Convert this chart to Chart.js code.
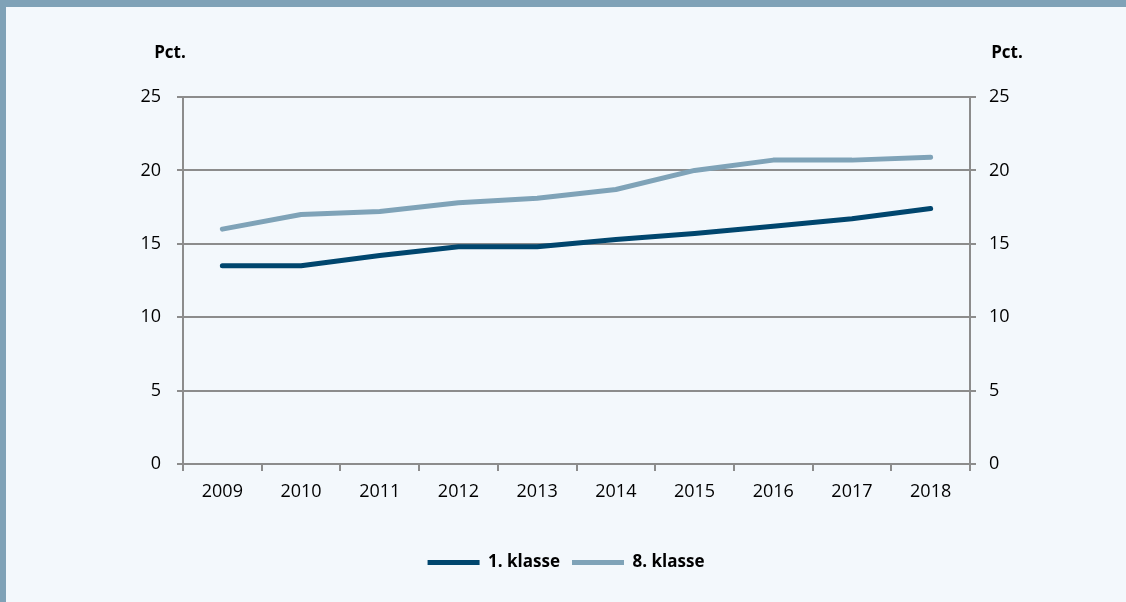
<!DOCTYPE html>
<html>
<head>
<meta charset="utf-8">
<script src="https://cdn.jsdelivr.net/npm/chart.js@4.4.1/dist/chart.umd.min.js"></script>
<style>
  html, body { margin: 0; padding: 0; }
  body { width: 1126px; height: 602px; background: #7fa2b7; position: relative; overflow: hidden; }
  #panel { position: absolute; left: 6px; top: 7px; width: 1120px; height: 595px; background: #f3f8fc; }
  #panel canvas { position: absolute; left: 0; top: 0; }
</style>
</head>
<body>
<div id="panel"><canvas id="c" width="1120" height="595"></canvas></div>
<script>
const categories = ['2009','2010','2011','2012','2013','2014','2015','2016','2017','2018'];
const seriesNames = ['1. klasse', '8. klasse'];
const klasse1 = [13.5, 13.5, 14.2, 14.8, 14.8, 15.3, 15.7, 16.2, 16.7, 17.4];
const klasse8 = [16.0, 17.0, 17.2, 17.8, 18.1, 18.7, 20.0, 20.7, 20.7, 20.9];
const yTicks = [0, 5, 10, 15, 20, 25];
const axisUnit = 'Pct.';

const FONT = "'Open Sans', 'Noto Sans', sans-serif";
const GRID = '#8c8c8c';
const TEXT = '#000';

const unitLabels = {
  id: 'unitLabels',
  afterDraw(chart) {
    const ctx = chart.ctx;
    ctx.save();
    ctx.font = "bold 17px " + FONT;
    ctx.fillStyle = TEXT;
    ctx.textAlign = 'center';
    ctx.textBaseline = 'middle';
    ctx.fillText(axisUnit, chart.chartArea.left - 13, 46);
    ctx.fillText(axisUnit, chart.chartArea.right + 37, 46);
    ctx.restore();
  }
};

new Chart(document.getElementById('c'), {
  type: 'line',
  data: {
    labels: categories,
    datasets: [
      { label: seriesNames[0], data: klasse1, borderColor: '#00466e', backgroundColor: '#00466e',
        borderWidth: 5, borderCapStyle: 'round', borderJoinStyle: 'round', pointRadius: 0, tension: 0, yAxisID: 'y' },
      { label: seriesNames[1], data: klasse8, borderColor: '#7fa3b8', backgroundColor: '#7fa3b8',
        borderWidth: 5, borderCapStyle: 'round', borderJoinStyle: 'round', pointRadius: 0, tension: 0, yAxisID: 'y' }
    ]
  },
  options: {
    responsive: false,
    animation: false,
    devicePixelRatio: 1,
    layout: { padding: { top: 90, bottom: 21, left: 0, right: 0 } },
    plugins: {
      tooltip: { enabled: false },
      legend: {
        position: 'bottom',
        labels: {
          usePointStyle: true,
          pointStyle: 'line',
          pointStyleWidth: 52,
          padding: 12,
          color: TEXT,
          font: { family: FONT, size: 17, weight: 'bold' }
        }
      }
    },
    scales: {
      x: {
        offset: true,
        grid: { display: true, drawOnChartArea: false, offset: true, color: GRID, lineWidth: 2, tickLength: 7 },
        border: { display: true, color: GRID, width: 2 },
        ticks: { color: TEXT, padding: 10, font: { family: FONT, size: 18 }, maxRotation: 0 },
        afterFit(s) { s.height = 78; }
      },
      y: {
        position: 'left',
        min: 0, max: 25,
        afterBuildTicks(s) { s.ticks = yTicks.map(v => ({ value: v })); },
        grid: { color: GRID, lineWidth: 2, tickLength: 6 },
        border: { display: true, color: GRID, width: 2 },
        ticks: { color: TEXT, padding: 16, font: { family: FONT, size: 18 } },
        afterFit(s) { s.width = 177; }
      },
      y2: {
        position: 'right',
        min: 0, max: 25,
        afterBuildTicks(s) { s.ticks = yTicks.map(v => ({ value: v })); },
        grid: { drawOnChartArea: false, color: GRID, lineWidth: 2, tickLength: 6 },
        border: { display: true, color: GRID, width: 2 },
        ticks: { color: TEXT, padding: 13, font: { family: FONT, size: 18 } },
        afterFit(s) { s.width = 156; }
      }
    }
  },
  plugins: [unitLabels]
});
</script>
</body>
</html>
